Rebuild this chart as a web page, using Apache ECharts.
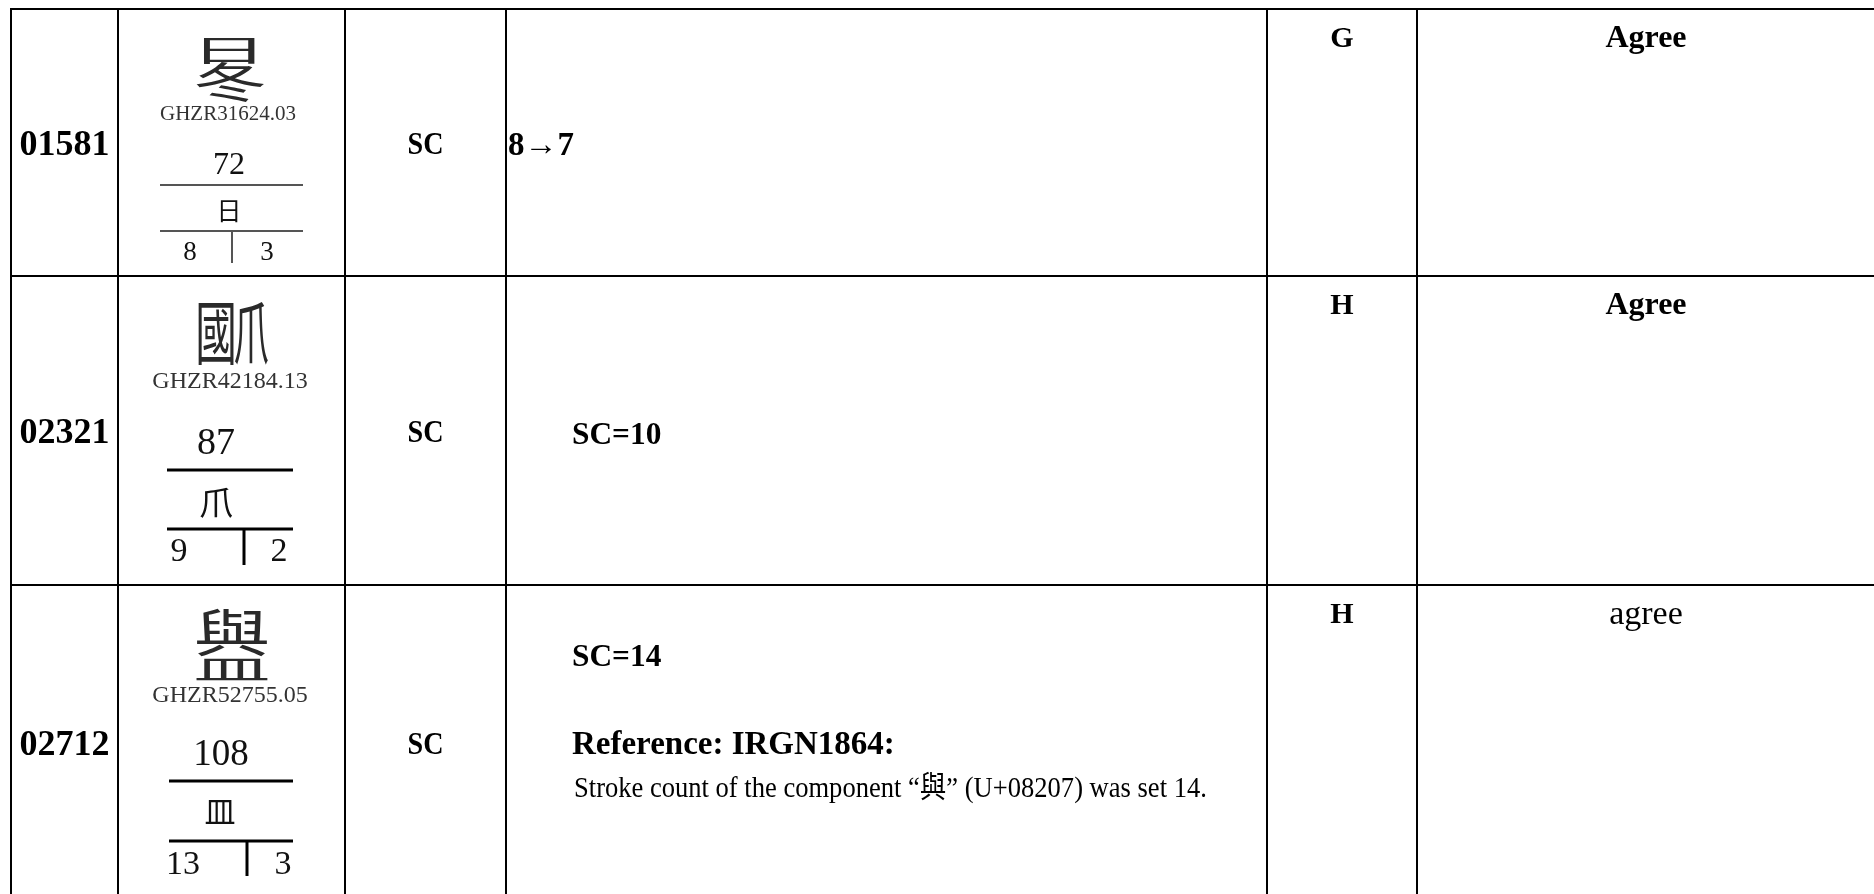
<!DOCTYPE html>
<html>
<head>
<meta charset="utf-8">
<script src="https://cdn.jsdelivr.net/npm/echarts@6/dist/echarts.min.js"></script>
<style>
html,body{margin:0;padding:0;background:#fff;}
#chart{width:1874px;height:894px;}
</style>
</head>
<body>
<div id="chart"></div>
<script>
// ---- data ----
var ids = ['01581', '02321', '02712'];
var glyphParts = [['日', '冬'], ['國', '爪'], ['與', '皿']];
var sourceRefs = ['GHZR31624.03', 'GHZR42184.13', 'GHZR52755.05'];
var radicalNums = ['72', '87', '108'];
var radicalChars = ['日', '爪', '皿'];
var strokeCounts = ['8', '9', '13'];
var firstStrokes = ['3', '2', '3'];
var categories = ['SC', 'SC', 'SC'];
var commentLines = [
  ['8→7'],
  ['SC=10'],
  ['SC=14', 'Reference: IRGN1864:', 'Stroke count of the component “與” (U+08207) was set 14.']
];
var suppliers = ['G', 'H', 'H'];
var responses = ['Agree', 'Agree', 'agree'];

// ---- layout (positions / styles only) ----
var colX = [11, 118, 345, 506, 1267, 1417, 1890];
var rowY = [9, 276, 585, 905];
var DY = 3; // baseline correction for text
var SERIF = '"Liberation Serif", "Times New Roman", "Noto Sans CJK SC", serif';
var CJK = '"Noto Sans CJK SC", "Noto Sans CJK TC", sans-serif';

var imgLayout = [
  { parts: [[229, 47, 1.2, 0.47], [230, 79, 1.15, 0.66]], code: [228, 111, 21],
    num: [229, 163, 32], l1: 185, lx: [160, 303], lw: 2, lc: '#555', rad: [229, 207, 25],
    l2: 231, sc: [190, 250, 27], vx: 232, vy2: 263, fs: [267, 250] },
  { parts: [[216, 329, 0.65, 1.1], [251, 329, 0.55, 1.1]], code: [230, 379, 24],
    num: [216, 441, 38], l1: 470, lx: [167, 293], lw: 3, lc: '#000', rad: [216, 499, 34],
    l2: 529, sc: [179, 549, 34], vx: 244, vy2: 565, fs: [279, 549] },
  { parts: [[232, 630, 1.2, 0.8], [232, 666, 1.2, 0.45]], code: [230, 693, 24],
    num: [221, 752, 37], l1: 781, lx: [169, 293], lw: 3, lc: '#000', rad: [220, 808, 31],
    l2: 841, sc: [183, 862, 34], vx: 247, vy2: 876, fs: [283, 862] }
];
var commentLayout = [
  [[508, 143, 'bold', 34, 0.97]],
  [[572, 433, 'bold', 32, 0.98]],
  [[572, 655, 'bold', 32, 0.98], [572, 742, 'bold', 33, 1], [574, 786, 'normal', 30, 0.885]]
];

function txt(x, y, text, font, opts) {
  opts = opts || {};
  return {
    type: 'text', x: x, y: y + DY, silent: true,
    scaleX: opts.sx || 1, scaleY: opts.sy || 1,
    style: {
      text: text, font: font, fill: opts.fill || '#000',
      align: opts.align || 'center', verticalAlign: 'middle'
    }
  };
}
function line(x1, y1, x2, y2, w, c) {
  return { type: 'line', silent: true,
    shape: { x1: x1, y1: y1, x2: x2, y2: y2 },
    style: { stroke: c || '#000', lineWidth: w || 2 } };
}

var els = [];
// grid lines
for (var r = 0; r < 3; r++) els.push(line(colX[0] - 1, rowY[r], 1874, rowY[r], 2));
for (var c = 0; c < 6; c++) els.push(line(colX[c], rowY[0] - 1, colX[c], 894, 2));

for (var i = 0; i < ids.length; i++) {
  var yc = (rowY[i] + rowY[i + 1]) / 2;
  if (i === 2) yc = 743;
  els.push(txt((colX[0] + colX[1]) / 2, yc, ids[i], 'bold 36px ' + SERIF));
  els.push(txt((colX[2] + colX[3]) / 2, yc, categories[i], 'bold 32px ' + SERIF, { sx: 0.88 }));
  // glyph image cell
  var L = imgLayout[i];
  for (var p = 0; p < 2; p++) {
    var P = L.parts[p];
    els.push(txt(P[0], P[1], glyphParts[i][p], '64px ' + CJK, { sx: P[2], sy: P[3], fill: '#2a2a2a' }));
  }
  els.push(txt(L.code[0], L.code[1], sourceRefs[i], L.code[2] + 'px ' + SERIF, { fill: '#333' }));
  els.push(txt(L.num[0], L.num[1], radicalNums[i], L.num[2] + 'px ' + SERIF, { fill: '#111' }));
  els.push(line(L.lx[0], L.l1, L.lx[1], L.l1, L.lw, L.lc));
  els.push(txt(L.rad[0], L.rad[1], radicalChars[i], L.rad[2] + 'px ' + CJK, { fill: '#111' }));
  els.push(line(L.lx[0], L.l2, L.lx[1], L.l2, L.lw, L.lc));
  els.push(txt(L.sc[0], L.sc[1], strokeCounts[i], L.sc[2] + 'px ' + SERIF, { fill: '#111' }));
  els.push(line(L.vx, L.l2, L.vx, L.vy2, L.lw, L.lc));
  els.push(txt(L.fs[0], L.sc[1], firstStrokes[i], L.sc[2] + 'px ' + SERIF, { fill: '#111' }));
  // comments
  for (var k = 0; k < commentLines[i].length; k++) {
    var C = commentLayout[i][k];
    els.push(txt(C[0], C[1], commentLines[i][k], C[2] + ' ' + C[3] + 'px ' + SERIF, { align: 'left', sx: C[4] }));
  }
  var ty = rowY[i] + 27;
  els.push(txt((colX[4] + colX[5]) / 2, ty, suppliers[i], 'bold 30px ' + SERIF));
  els.push(txt(1646, ty, responses[i], (i === 2 ? 'normal 34px ' : 'bold 32px ') + SERIF));
}

var chart = echarts.init(document.getElementById('chart'), null, { renderer: 'canvas' });
chart.setOption({
  backgroundColor: '#fff',
  animation: false,
  graphic: { elements: els }
});
</script>
</body>
</html>
